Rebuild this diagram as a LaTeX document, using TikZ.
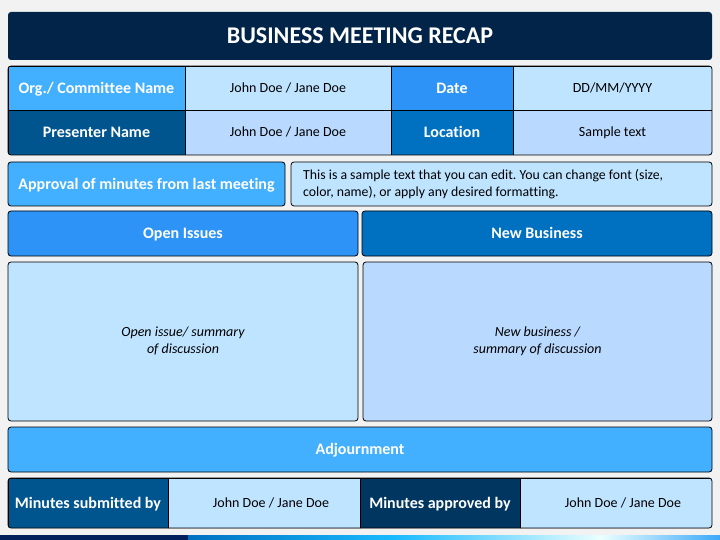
\documentclass[tikz,border=0pt]{standalone}
\usepackage{fontspec}
\setmainfont{Carlito}[Ligatures=NoCommon]
\frenchspacing
\definecolor{pagegray}{HTML}{F2F2F2}
\definecolor{navy}{HTML}{022449}
\definecolor{stripnavy}{HTML}{031F5C}
\definecolor{skyblue}{HTML}{42AFFF}
\definecolor{midblue}{HTML}{2E93F6}
\definecolor{deepblue}{HTML}{0070C0}
\definecolor{darkblue}{HTML}{00558F}
\definecolor{darkerblue}{HTML}{00365F}
\definecolor{paleblue}{HTML}{BFE4FF}
\definecolor{paleblueb}{HTML}{BAD9FF}
\begin{document}
\begin{tikzpicture}[x=1pt,y=-1pt,
  box/.style={draw=black,line width=0.8pt,inner sep=0pt,outer sep=0pt,anchor=north west,align=center},
  headcell/.style={box,text=white,text height=11pt,text depth=0.6pt,font=\bfseries\fontsize{16}{18}\selectfont},
  valcell/.style={box,text height=10pt,text depth=1pt,font=\fontsize{14}{16}\selectfont},
  bodycell/.style={box,font=\itshape\fontsize{14}{17}\selectfont},
  roundbox/.style={rounded corners=3pt}]

% page and margins
\useasboundingbox (0,0) rectangle (720,540);
\fill[pagegray] (0,0) rectangle (720,540);

% title bar
\node[box,draw=none,roundbox,fill=navy,text=white,minimum width=704,minimum height=48,
  font=\bfseries\fontsize{24}{26}\selectfont] (title) at (8,12) {BUSINESS MEETING RECAP};

% first table
\begin{scope}
\clip[roundbox] (8,66) rectangle (712,155);
\node[headcell,fill=skyblue,minimum width=177,minimum height=44] (org) at (8,66) {Org./ Committee Name};
\node[valcell,fill=paleblue,minimum width=206,minimum height=44] (orgval) at (185,66) {John Doe / Jane Doe};
\node[headcell,fill=midblue,minimum width=122,minimum height=44] (date) at (391,66) {Date};
\node[valcell,fill=paleblue,minimum width=199,minimum height=44] (dateval) at (513,66) {DD/MM/YYYY};
\node[headcell,fill=darkblue,minimum width=177,minimum height=45] (presenter) at (8,110) {Presenter Name};
\node[valcell,fill=paleblueb,minimum width=206,minimum height=45] (presenterval) at (185,110) {John Doe / Jane Doe};
\node[headcell,fill=deepblue,minimum width=122,minimum height=45] (location) at (391,110) {Location};
\node[valcell,fill=paleblueb,minimum width=199,minimum height=45] (locationval) at (513,110) {Sample text};
\end{scope}
\draw[line width=0.8pt,roundbox] (8,66) rectangle (712,155);

% approval of minutes
\node[headcell,roundbox,fill=skyblue,minimum width=277,minimum height=44] (approval) at (8,162) {Approval of minutes from last meeting};
\node[box,roundbox,fill=paleblue,minimum width=421,minimum height=44] (approvalval) at (291,162) {};
\node[font=\fontsize{13.8}{16.8}\selectfont,align=left,anchor=west,inner sep=0pt]
  (approvaltext) at ([xshift=12pt]approvalval.west) {This is a sample text that you can edit. You can change font (size,\\color, name), or apply any desired formatting.};

% open issues and new business
\node[headcell,roundbox,fill=midblue,minimum width=350,minimum height=45] (open) at (8,211) {Open Issues};
\node[headcell,roundbox,fill=deepblue,minimum width=350,minimum height=45] (new) at (362,211) {New Business};
\node[bodycell,roundbox,fill=paleblue,minimum width=350,minimum height=159] (openbody) at (8,262) {Open issue/ summary\\of discussion};
\node[bodycell,roundbox,fill=paleblueb,minimum width=349,minimum height=159] (newbody) at (363,262) {New business /\\summary of discussion};

% adjournment
\node[headcell,roundbox,fill=skyblue,minimum width=704,minimum height=45] (adjourn) at (8,427) {Adjournment};

% signatures
\begin{scope}
\clip[roundbox] (8,478) rectangle (712,528);
\node[headcell,fill=darkblue,minimum width=160,minimum height=50] (submitted) at (8,478) {Minutes submitted by};
\node[valcell,fill=paleblue,minimum width=192,minimum height=50] (submittedval) at (168,478) {\hspace*{14pt}John Doe / Jane Doe};
\node[headcell,fill=darkerblue,minimum width=160,minimum height=50] (approved) at (360,478) {Minutes approved by};
\node[valcell,fill=paleblue,minimum width=192,minimum height=50] (approvedval) at (520,478) {\hspace*{14pt}John Doe / Jane Doe};
\end{scope}
\draw[line width=0.8pt,roundbox] (8,478) rectangle (712,528);

% bottom strip
\fill[stripnavy] (0,535) rectangle (188,540);
\shade[left color=deepblue,right color=white!92!cyan,middle color=cyan!70!blue!90!white] (188,535) rectangle (601,540);
\shade[left color=white!92!cyan,right color=skyblue!90!deepblue] (601,535) rectangle (720,540);

\end{tikzpicture}
\end{document}
